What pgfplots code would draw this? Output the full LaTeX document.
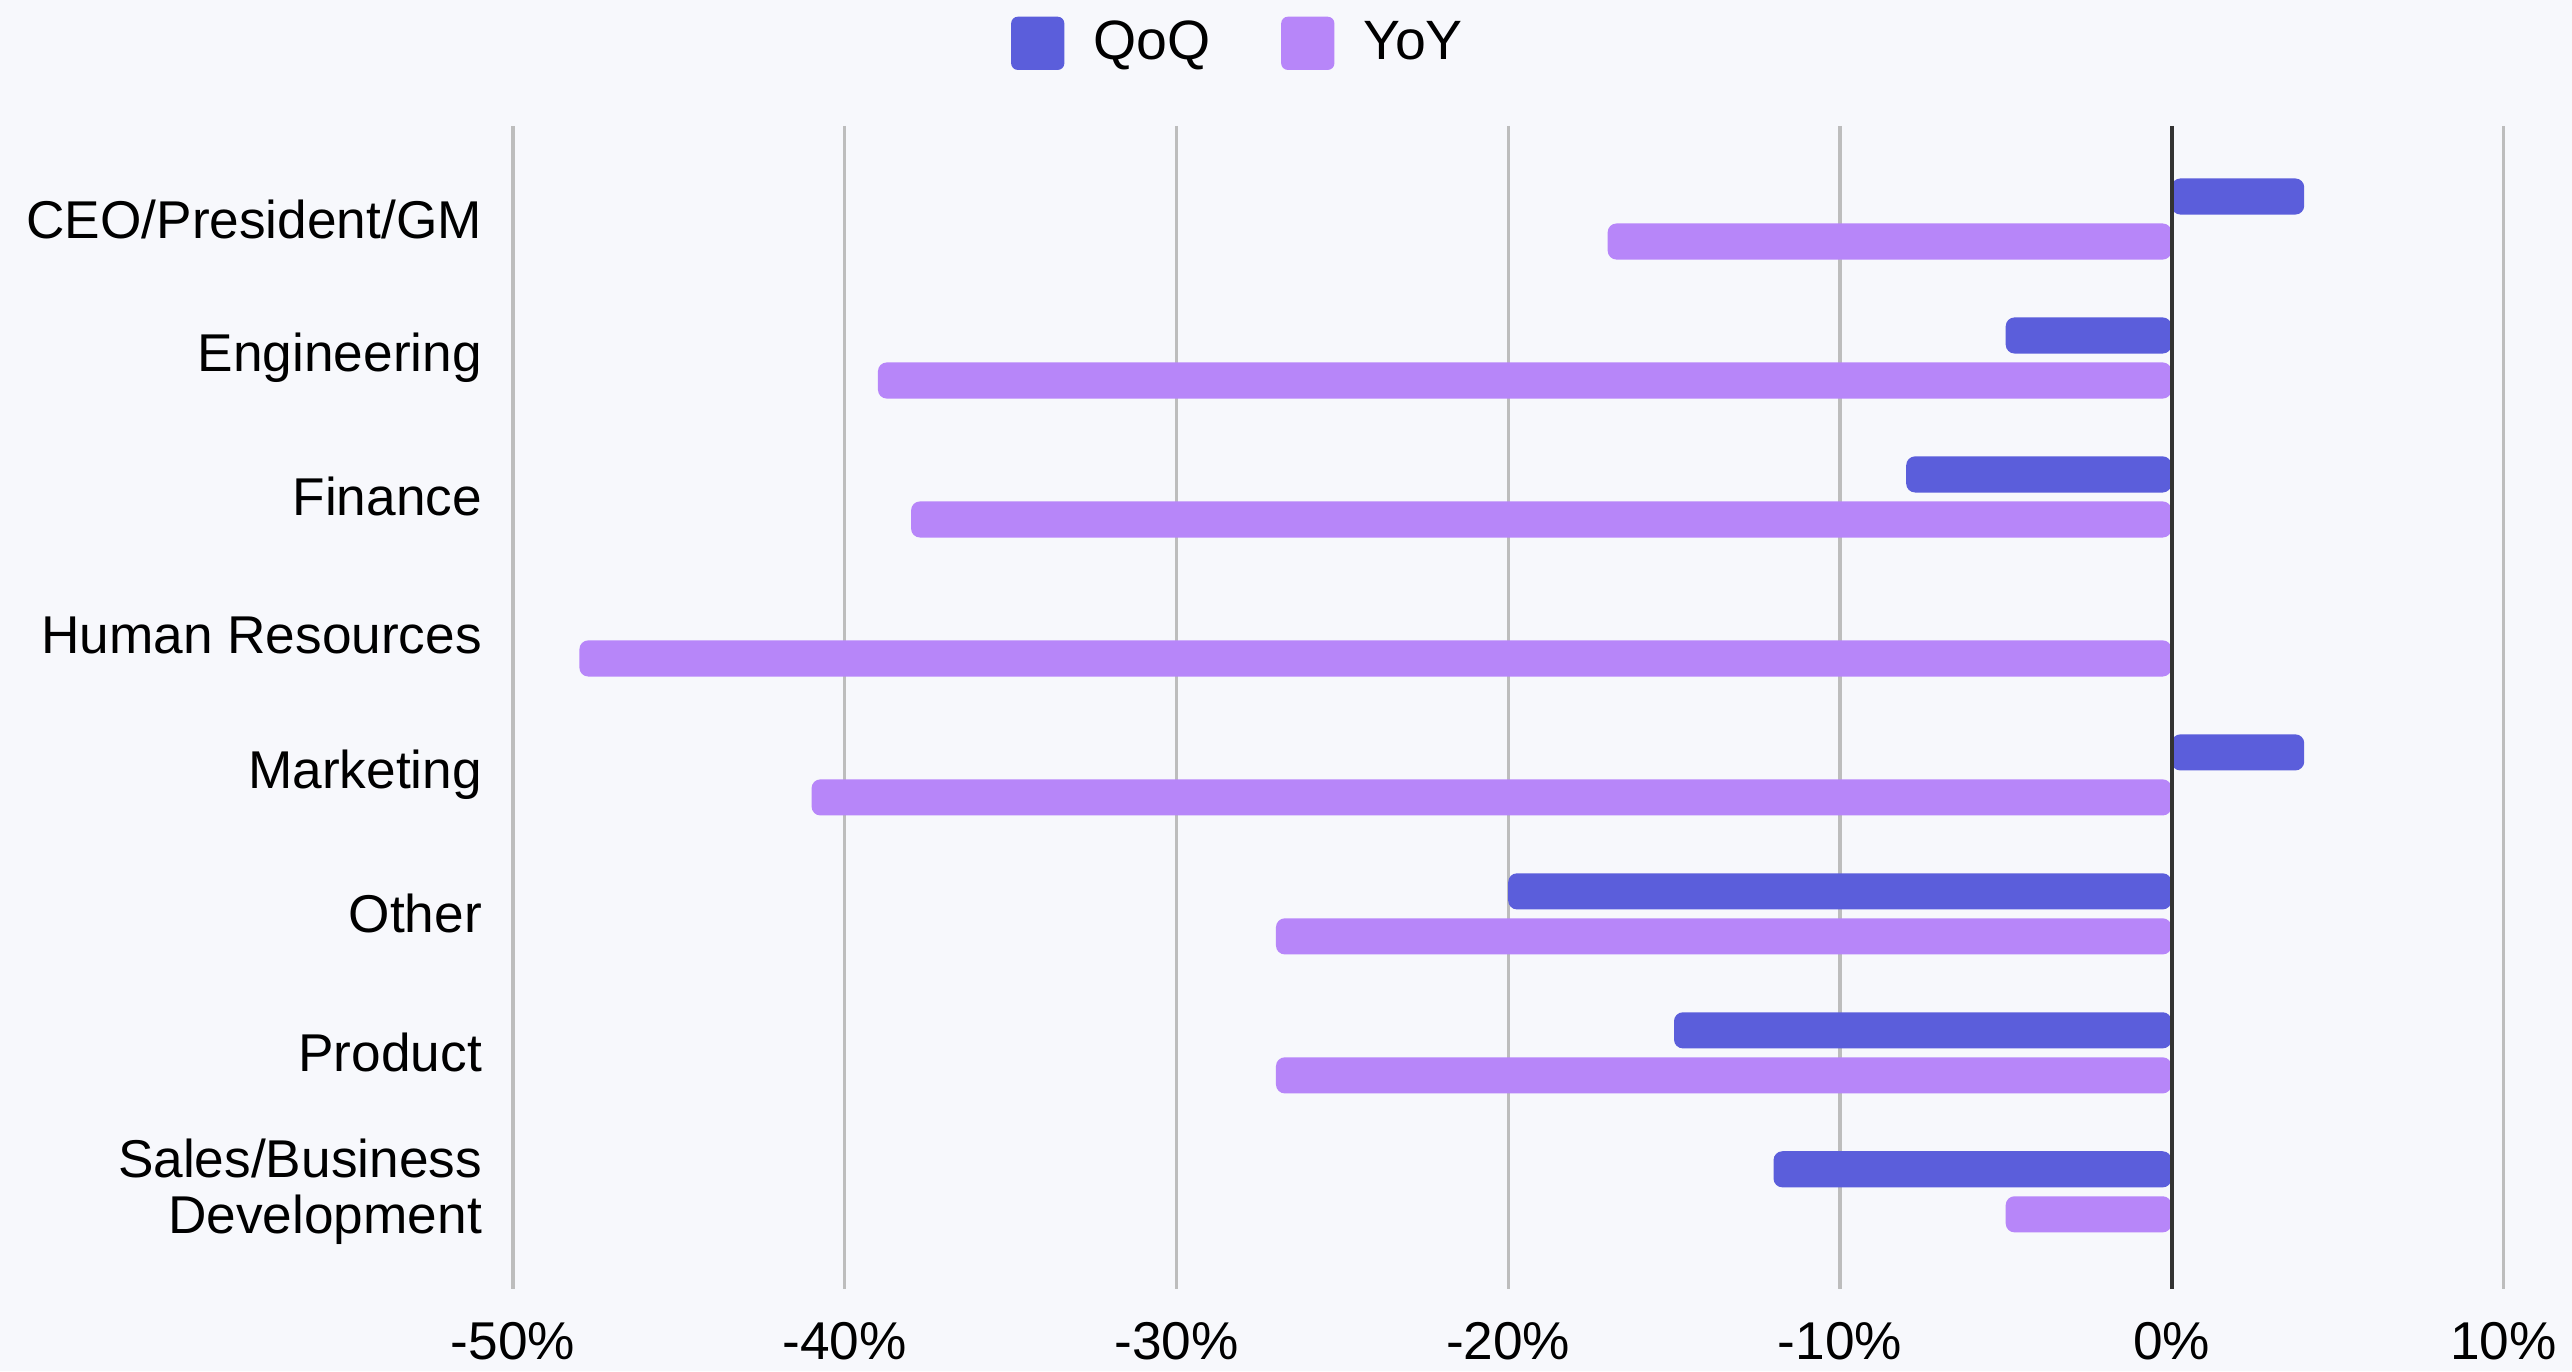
\documentclass[border=0pt]{standalone}
\usepackage{pgfplots}
\pgfplotsset{compat=1.18}
\usepackage{fontspec}
\setmainfont{Liberation Sans}
\definecolor{bgcol}{HTML}{F7F8FC}
\definecolor{qoq}{HTML}{5B5EDB}
\definecolor{yoy}{HTML}{B786F9}
\definecolor{gridc}{HTML}{BDBDBD}
\begin{document}
\begin{tikzpicture}
\path[fill=bgcol, use as bounding box] (-115.7pt,-18.5pt) rectangle (464.3pt,290.7pt);
\begin{axis}[
  at={(0pt,0pt)}, anchor=south west,
  scale only axis, width=448.8pt, height=262.3pt,
  xmin=-50, xmax=10, ymin=-0.67, ymax=7.70,
  y dir=reverse,
  xtick={-50,-40,-30,-20,-10,0,10},
  xticklabel={\pgfmathprintnumber{\tick}\%},
  /pgf/number format/assume math mode=true,
  ytick={0,1,2,3,4,5,6,7},
  yticklabels={CEO/President/GM,Engineering,Finance,Human Resources,Marketing,Other,Product,{Sales/Business\\Development}},
  yticklabel style={align=right, font=\fontsize{12}{12.6}\selectfont, xshift=-3.5pt},
  xticklabel style={font=\fontsize{12}{14}\selectfont, yshift=-4pt},
  axis line style={draw=none},
  major tick length=0pt,
  xmajorgrids, ymajorgrids=false,
  grid style={gridc, line width=0.75pt},
  xbar, bar width=0.26,
  legend columns=2,
  legend style={at={(0.366,1.071)}, anchor=center, draw=none, fill=none,
    font=\fontsize{12.5}{14}\selectfont,
    /tikz/every even column/.append style={column sep=14pt}},
  legend image code/.code={\fill[#1, rounded corners=1.5pt] (0pt,-6pt) rectangle (12pt,6pt); \path (16.5pt,0pt);},
  clip=false,
]
\addplot[fill=qoq, draw=none, bar shift=-0.162, rounded corners=2pt] coordinates {
 (4,0) (-5,1) (-8,2) (4,4) (-20,5) (-15,6) (-12,7)};
\addlegendentry{QoQ}
\addplot[fill=yoy, draw=none, bar shift=0.162, rounded corners=2pt] coordinates {
 (-17,0) (-39,1) (-38,2) (-48,3) (-41,4) (-27,5) (-27,6) (-5,7)};
\addlegendentry{YoY}
\addplot[forget plot, sharp plot, draw=black!80, line width=0.9pt, mark=none] coordinates {(0,-0.67) (0,7.70)};
\end{axis}
\end{tikzpicture}
\end{document}
